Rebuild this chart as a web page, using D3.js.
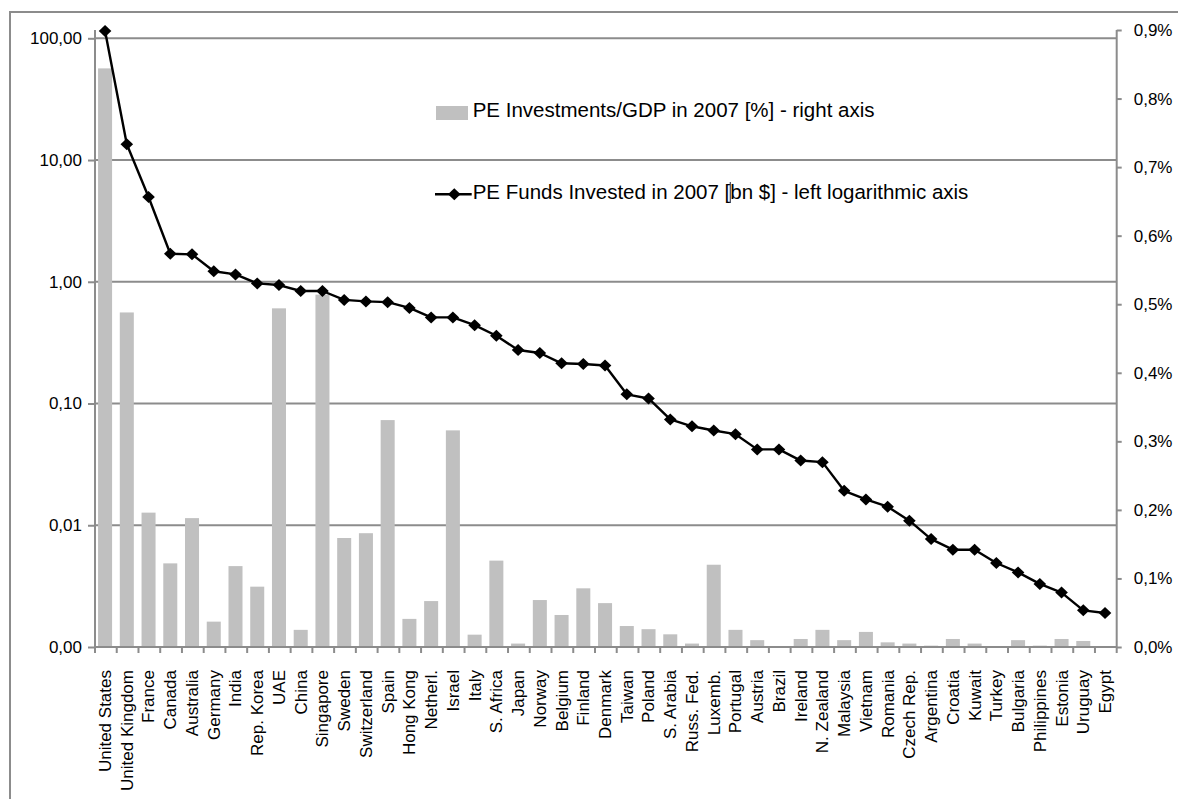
<!DOCTYPE html>
<html><head><meta charset="utf-8">
<script src="https://cdn.jsdelivr.net/npm/d3@7"></script>
<style>
html,body{margin:0;padding:0;background:#fff;}
text{font-family:"Liberation Sans",Arial,sans-serif;fill:#000;}
</style></head>
<body>
<svg id="chart" width="1178" height="799"></svg>
<script>
const countries = ["United States","United Kingdom","France","Canada","Australia","Germany","India","Rep. Korea","UAE","China","Singapore","Sweden","Switzerland","Spain","Hong Kong","Netherl.","Israel","Italy","S. Africa","Japan","Norway","Belgium","Finland","Denmark","Taiwan","Poland","S. Arabia","Russ. Fed.","Luxemb.","Portugal","Austria","Brazil","Ireland","N. Zealand","Malaysia","Vietnam","Romania","Czech Rep.","Argentina","Croatia","Kuwait","Turkey","Bulgaria","Philippines","Estonia","Uruguay","Egypt"];
// PE funds invested in 2007, bn $ (left log axis)
const fundsInvested = [115,13.5,4.97,1.70,1.68,1.22,1.15,0.97,0.94,0.84,0.84,0.71,0.69,0.68,0.61,0.51,0.51,0.44,0.36,0.275,0.26,0.214,0.211,0.205,0.119,0.110,0.074,0.065,0.060,0.056,0.042,0.042,0.034,0.033,0.0192,0.0163,0.0142,0.0109,0.0077,0.0063,0.0063,0.0049,0.0041,0.0033,0.0028,0.0020,0.0019];
// PE investments / GDP in 2007, % (right axis)
const investGdp = [0.844,0.488,0.196,0.122,0.188,0.037,0.118,0.088,0.494,0.025,0.514,0.159,0.166,0.331,0.041,0.067,0.316,0.018,0.126,0.005,0.0685,0.0467,0.0856,0.064,0.0306,0.026,0.0185,0.005,0.12,0.025,0.010,0.001,0.0117,0.025,0.010,0.022,0.0068,0.005,0.002,0.0117,0.005,0,0.010,0.002,0.0117,0.0088,0];
const leftTicks = [0.001,0.01,0.1,1,10,100];
const leftTickLabels = ["0,00","0,01","0,10","1,00","10,00","100,00"];
const rightTicks = [0,0.1,0.2,0.3,0.4,0.5,0.6,0.7,0.8,0.9];
const legendBar = "PE Investments/GDP in 2007 [%] - right axis";
const legendLine = "PE Funds Invested in 2007 [bn $] - left logarithmic axis";

const svg = d3.select("#chart");
const X0 = 95, X1 = 1116.7, YB = 647, YT = 30;
const grid = "#8c8c8c";

svg.append("rect").attr("width",1178).attr("height",799).attr("fill","#fff");
// outer frame
svg.append("path").attr("d","M10,799V12H1178").attr("fill","none").attr("stroke",grid).attr("stroke-width",2);

const x = d3.scaleBand().domain(countries).range([X0,X1]).paddingInner(0.355).paddingOuter(0.1775);
const yL = d3.scaleLog().domain([0.001,100]).range([YB,38.3]);
const yR = d3.scaleLinear().domain([0,0.9]).range([YB,YT]);
const shift = -0.8;

// gridlines
svg.append("g").selectAll("line").data(leftTicks.slice(1)).join("line")
  .attr("x1",X0).attr("x2",X1).attr("y1",d=>yL(d)).attr("y2",d=>yL(d))
  .attr("stroke",grid).attr("stroke-width",2);

// bars
svg.append("g").selectAll("rect").data(countries).join("rect")
  .attr("x",d=>x(d)+shift).attr("width",x.bandwidth())
  .attr("y",(d,i)=>yR(investGdp[i])).attr("height",(d,i)=>YB-yR(investGdp[i]))
  .attr("fill","#c0c0c0");

// left axis
const gL = svg.append("g").attr("transform",`translate(${X0},0)`)
  .call(d3.axisLeft(yL).tickValues(leftTicks).tickFormat((d,i)=>leftTickLabels[i]).tickSize(7).tickPadding(6));
gL.select(".domain").attr("d",`M0,${YT}V${YB}`).attr("stroke",grid).attr("stroke-width",2);
gL.selectAll(".tick line").attr("stroke",grid).attr("stroke-width",2);
gL.selectAll(".tick text").attr("font-size",17).attr("font-family","Liberation Sans, Arial, sans-serif").attr("fill","#000");

// right axis
const gR = svg.append("g").attr("transform",`translate(${X1},0)`)
  .call(d3.axisRight(yR).tickValues(rightTicks).tickFormat(d=>d3.format(".1f")(d).replace(".",",")+"%").tickSize(5).tickPadding(12));
gR.select(".domain").attr("d",`M0,${YT}V${YB}`).attr("stroke",grid).attr("stroke-width",2);
gR.selectAll(".tick line").attr("stroke",grid).attr("stroke-width",2);
gR.selectAll(".tick text").attr("font-size",17).attr("font-family","Liberation Sans, Arial, sans-serif").attr("fill","#000");

// x axis line and ticks at band boundaries
const step = x.step();
const bounds = d3.range(countries.length+1).map(i=>X0+i*step);
svg.append("line").attr("x1",X0).attr("x2",X1).attr("y1",YB).attr("y2",YB).attr("stroke",grid).attr("stroke-width",2);
svg.append("g").selectAll("line").data(bounds).join("line")
  .attr("x1",d=>d).attr("x2",d=>d).attr("y1",YB).attr("y2",YB+6)
  .attr("stroke",grid).attr("stroke-width",2);
// category labels
svg.append("g").selectAll("text").data(countries).join("text")
  .attr("transform",d=>`translate(${x(d)+x.bandwidth()/2+shift},670) rotate(-90)`)
  .attr("text-anchor","end").attr("dy","0.35em").attr("font-size",17).text(d=>d);

// line series
const cx = d=>x(d)+x.bandwidth()/2+shift;
const line = d3.line().x((d,i)=>cx(countries[i])).y(d=>yL(d));
svg.append("path").datum(fundsInvested).attr("d",line).attr("fill","none").attr("stroke","#000").attr("stroke-width",2.4).attr("stroke-linejoin","round");
const diamond = "M0,-6L6.3,0L0,6L-6.3,0Z";
svg.append("g").selectAll("path").data(fundsInvested).join("path")
  .attr("transform",(d,i)=>`translate(${cx(countries[i])},${yL(d)})`).attr("d",diamond).attr("fill","#000");

// legend
svg.append("rect").attr("x",436).attr("y",106).attr("width",32).attr("height",14).attr("fill","#c0c0c0");
svg.append("text").attr("x",472.7).attr("y",116.5).attr("font-size",20.5).text(legendBar);
svg.append("line").attr("x1",435).attr("x2",471.7).attr("y1",194.3).attr("y2",194.3).attr("stroke","#000").attr("stroke-width",2.4);
svg.append("path").attr("transform","translate(454.3,194.3)").attr("d",diamond).attr("fill","#000");
const t2 = svg.append("text").attr("x",472.7).attr("y",199).attr("font-size",20.5).text(legendLine);
// text cursor visible in the source image, placed just after "["
const cut = legendLine.indexOf("[")+1;
const cursorX = 472.7 + t2.node().getSubStringLength(0,cut);
svg.append("line").attr("x1",cursorX).attr("x2",cursorX).attr("y1",182).attr("y2",203).attr("stroke","#223").attr("stroke-width",1);
</script>
</body></html>
